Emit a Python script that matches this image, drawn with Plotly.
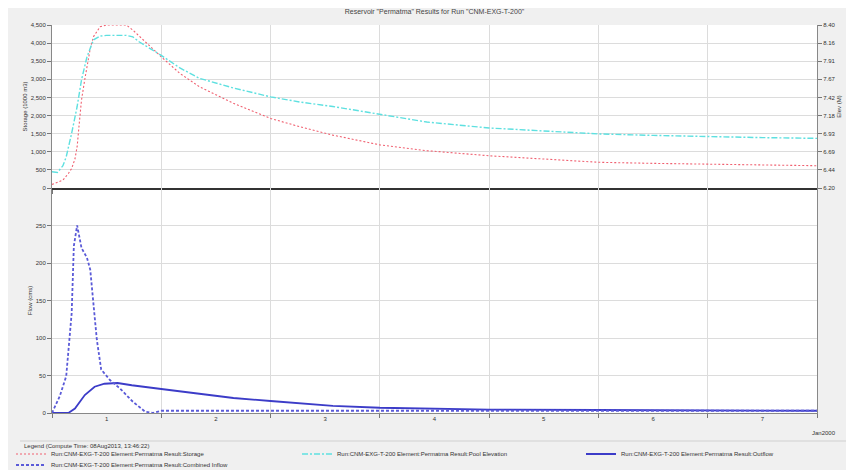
import plotly.graph_objects as go

# ---- data (time in days from start of 01Jan2000) ----
storage_t = [0, 0.10, 0.15, 0.18, 0.21, 0.23, 0.25, 0.27, 0.30, 0.32, 0.35, 0.38, 0.44, 0.50, 0.68, 0.74,
             0.87, 1.00, 1.17, 1.35, 1.66, 2.00, 2.27, 2.57, 3.00, 3.43, 4.00, 4.50, 5.00, 5.50, 6.00, 6.50, 7.00]
storage_v = [100, 220, 400, 540, 800, 1140, 1800, 2430, 3000, 3350, 3850, 4180, 4450, 4500, 4500, 4360,
             3990, 3620, 3165, 2795, 2340, 1920, 1690, 1460, 1190, 1030, 890, 790, 710, 680, 660, 635, 615]

elev_t = [0, 0.05, 0.10, 0.13, 0.18, 0.23, 0.27, 0.32, 0.38, 0.44, 0.50, 0.68, 0.74, 0.80, 1.00, 1.17,
          1.35, 1.66, 2.00, 2.27, 2.57, 3.00, 3.43, 4.00, 4.50, 5.00, 5.50, 6.00, 6.50, 7.00]
elev_v = [6.42, 6.41, 6.50, 6.62, 6.94, 7.30, 7.66, 7.97, 8.20, 8.25, 8.26, 8.26, 8.24, 8.17, 7.99, 7.82,
          7.68, 7.55, 7.43, 7.36, 7.30, 7.19, 7.09, 7.01, 6.97, 6.93, 6.91, 6.89, 6.88, 6.87]

outflow_t = [0, 0.15, 0.21, 0.30, 0.39, 0.48, 0.60, 0.73, 1.00, 1.35, 1.66, 2.00, 2.27, 2.57, 3.00, 3.43,
             4.00, 5.00, 6.00, 7.00]
outflow_v = [0, 0, 6, 24, 35, 39, 40, 37, 32, 26, 20, 16, 12.5, 9.5, 7, 5.5, 4.5, 4, 3.5, 3]

inflow_t = [0, 0.07, 0.13, 0.18, 0.20, 0.23, 0.27, 0.32, 0.35, 0.38, 0.41, 0.45, 0.53, 0.62, 0.74, 0.85,
            0.92, 1.00, 2.00, 3.00, 4.00, 5.00, 6.00, 7.00]
inflow_v = [0, 22, 49, 133, 223, 250, 220, 207, 191, 142, 98, 58, 44, 33, 15, 2,
            0, 3, 3, 3, 3, 3, 3, 3]

day_ticks = [0.5, 1.5, 2.5, 3.5, 4.5, 5.5, 6.5]
day_labels = ["1", "2", "3", "4", "5", "6", "7"]
flow_ticks = [0, 50, 100, 150, 200, 250]
elev_ticks = [6.20, 6.4444, 6.6889, 6.9333, 7.1778, 7.4222, 7.6667, 7.9111, 8.1556, 8.40]
elev_labels = ["6.20", "6.44", "6.69", "6.93", "7.18", "7.42", "7.67", "7.91", "8.16", "8.40"]

run = "Run:CNM-EXG-T-200 Element:Permatma Result:"
title_text = 'Reservoir "Permatma" Results for Run "CNM-EXG-T-200"'
legend_title = "Legend (Compute Time: 08Aug2013, 13:46:22)"

FONT = "Liberation Sans, Arial, sans-serif"
TXT = "#333333"
GRID = "#dcdcdc"
W, H = 854, 470
OFF = 8  # page body offset of the figure in the browser


def cy(screen_y):
    """container y for a given screen pixel row"""
    return 1 - (screen_y - OFF) / H


def cx(screen_x):
    return (screen_x - OFF) / W


fig = go.Figure()
fig.add_trace(go.Scatter(x=storage_t, y=storage_v, mode="lines", name=run + "Storage",
                         line=dict(color="#f06070", width=1.1, dash="2px,2px"), xaxis="x", yaxis="y",
                         legend="legend"))
fig.add_trace(go.Scatter(x=elev_t, y=elev_v, mode="lines", name=run + "Pool Elevation",
                         line=dict(color="#5ee0e0", width=1.4, dash="6px,2px,2px,2px"), xaxis="x", yaxis="y3",
                         legend="legend"))
fig.add_trace(go.Scatter(x=outflow_t, y=outflow_v, mode="lines", name=run + "Outflow",
                         line=dict(color="#3c3cc8", width=1.8), xaxis="x2", yaxis="y2",
                         legend="legend3"))
fig.add_trace(go.Scatter(x=inflow_t, y=inflow_v, mode="lines", name=run + "Combined Inflow",
                         line=dict(color="#5a5ad8", width=1.8, dash="3px,2px"), xaxis="x2", yaxis="y2",
                         legend="legend2"))

split = 225 / 388.0
tickfont = dict(family=FONT, size=6, color=TXT)
minor_x = dict(tickmode="linear", tick0=0, dtick=1, showgrid=True, gridcolor=GRID,
               gridwidth=1, ticks="outside", ticklen=4, tickcolor="#777777")
legfont = dict(family=FONT, size=6, color=TXT)
legcommon = dict(orientation="h", xref="container", xanchor="left", yref="container", yanchor="middle",
                 entrywidth=241, entrywidthmode="pixels", font=legfont,
                 bgcolor="rgba(0,0,0,0)", itemwidth=30, tracegroupgap=0)
ytitle_font = dict(family=FONT, size=6, color=TXT)

fig.update_layout(
    width=W, height=H,
    margin=dict(l=52 - OFF, r=W - 817 + OFF, t=25 - OFF, b=H - 413 + OFF),
    paper_bgcolor="#f0f0f0", plot_bgcolor="white",
    font=dict(family=FONT, size=6, color=TXT),
    title=dict(text=title_text, x=0.5, xref="paper", xanchor="center", y=cy(12), yref="container",
               yanchor="middle", font=dict(family=FONT, size=7, color="#444444")),
    xaxis=dict(domain=[0, 1], anchor="y", matches="x2", range=[0, 7], showticklabels=False,
               tickmode="array", tickvals=day_ticks, showgrid=False, zeroline=False, minor=minor_x,
               showline=True, linecolor="#333333", linewidth=2, ticks=""),
    xaxis2=dict(domain=[0, 1], anchor="y2", range=[0, 7], tickmode="array", tickvals=day_ticks,
                ticktext=day_labels, ticks="", showgrid=False, zeroline=False, minor=minor_x,
                showline=True, linecolor="#888888", linewidth=1, tickfont=tickfont),
    yaxis=dict(domain=[split, 1], range=[0, 4500], tickmode="linear", tick0=0, dtick=500, tickformat=",",
               showgrid=True, gridcolor=GRID, zeroline=False, showline=True, linecolor="#888888",
               ticks="outside", ticklen=4, tickcolor="#777777", tickfont=tickfont,
               title=dict(text="Storage (1000 m3)", font=ytitle_font, standoff=2),
               automargin=False),
    yaxis3=dict(overlaying="y", side="right", anchor="x", range=[6.2, 8.4], tickmode="array",
                tickvals=elev_ticks, ticktext=elev_labels, showgrid=False, zeroline=False,
                showline=True, linecolor="#888888", ticks="outside", ticklen=4, tickcolor="#777777",
                tickfont=tickfont,
                title=dict(text="Elev (M)", font=ytitle_font, standoff=2),
                automargin=False),
    yaxis2=dict(domain=[0, split], range=[0, 300], tickmode="array", tickvals=flow_ticks,
                showgrid=True, gridcolor=GRID, zeroline=False, showline=True, mirror=True,
                linecolor="#888888", ticks="outside", ticklen=4, tickcolor="#777777", tickfont=tickfont,
                title=dict(text="Flow (cms)", font=ytitle_font, standoff=2),
                automargin=False),
    legend=dict(x=cx(11), y=cy(454), **legcommon),
    legend3=dict(x=cx(581), y=cy(454), **legcommon),
    legend2=dict(x=cx(11), y=cy(465), **legcommon),
    showlegend=True,
    annotations=[
        dict(text="Jan2000", x=1 + 7 / 765, xref="paper", y=-20 / 388.0, yref="paper",
             xanchor="center", yanchor="middle", showarrow=False, font=dict(family=FONT, size=6, color=TXT)),
        dict(text=legend_title, x=(22 - 52) / 765, xref="paper", y=(413 - 446) / 388.0, yref="paper",
             xanchor="left", yanchor="middle", showarrow=False, font=dict(family=FONT, size=6, color=TXT)),
    ],
    shapes=[dict(type="line", xref="paper", yref="paper", x0=-32 / 765, x1=798 / 765,
                 y0=(413 - 441) / 388.0, y1=(413 - 441) / 388.0, line=dict(color="#d0d0d0", width=1))],
)

fig.write_html("out.html")
